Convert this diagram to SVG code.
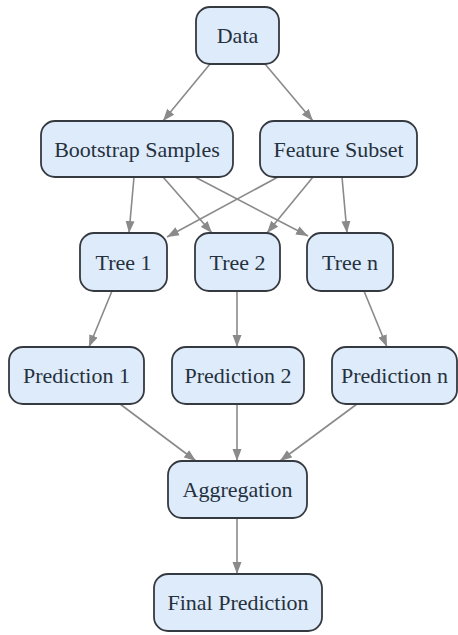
<svg xmlns="http://www.w3.org/2000/svg" width="458" height="635" viewBox="0 0 458 635">
<style>
.node rect{fill:#deebfa;stroke:#353a40;stroke-width:1.8}
.node text{font-size:22px;fill:#25313d;text-anchor:middle}
.edges line{stroke:#8a8a8a;stroke-width:1.6;fill:none;marker-end:url(#ah)}
</style>
<defs>
<marker id="ah" viewBox="0 0 12 10" refX="12" refY="5" markerWidth="12" markerHeight="10" markerUnits="userSpaceOnUse" orient="auto">
<path d="M0,0.5 L12,5 L0,9.5 Z" fill="#8a8a8a"/>
</marker>
</defs>
<rect width="458" height="635" fill="#ffffff"/>
<g class="edges">
<line x1="210" y1="64" x2="163" y2="121"/>
<line x1="265" y1="64" x2="313" y2="121"/>
<line x1="134" y1="177" x2="129" y2="233"/>
<line x1="163" y1="177" x2="212" y2="233"/>
<line x1="195" y1="177" x2="308" y2="236"/>
<line x1="278" y1="177" x2="167" y2="237"/>
<line x1="313" y1="177" x2="267" y2="233"/>
<line x1="342" y1="177" x2="347" y2="233"/>
<line x1="112" y1="291" x2="89" y2="347"/>
<line x1="237" y1="291" x2="237" y2="347"/>
<line x1="364" y1="291" x2="387" y2="347"/>
<line x1="120" y1="404" x2="196" y2="461"/>
<line x1="237" y1="404" x2="237" y2="461"/>
<line x1="357" y1="404" x2="280" y2="461"/>
<line x1="237" y1="518" x2="237" y2="574"/>
</g>
<g font-family="Liberation Serif, Times New Roman, serif">
<g id="data" class="node"><rect x="196" y="7" width="83" height="57" rx="14"/><text x="237.5" y="43">Data</text></g>
<g id="bootstrap" class="node"><rect x="41" y="121" width="192" height="56" rx="14"/><text x="137" y="157">Bootstrap Samples</text></g>
<g id="feature" class="node"><rect x="260" y="121" width="157" height="56" rx="14"/><text x="338.5" y="157">Feature Subset</text></g>
<g id="tree1" class="node"><rect x="80" y="233" width="87" height="58" rx="14"/><text x="123.5" y="270">Tree 1</text></g>
<g id="tree2" class="node"><rect x="195" y="233" width="85" height="58" rx="14"/><text x="237.5" y="270">Tree 2</text></g>
<g id="treen" class="node"><rect x="307" y="233" width="86" height="58" rx="14"/><text x="350" y="270">Tree n</text></g>
<g id="pred1" class="node"><rect x="9" y="347" width="135" height="57" rx="14"/><text x="76.5" y="383">Prediction 1</text></g>
<g id="pred2" class="node"><rect x="172" y="347" width="132" height="57" rx="14"/><text x="238" y="383">Prediction 2</text></g>
<g id="predn" class="node"><rect x="332" y="347" width="125" height="57" rx="14"/><text x="394.5" y="383">Prediction n</text></g>
<g id="aggregation" class="node"><rect x="168" y="461" width="139" height="57" rx="14"/><text x="237.5" y="497">Aggregation</text></g>
<g id="final" class="node"><rect x="154" y="574" width="168" height="57" rx="14"/><text x="238" y="610">Final Prediction</text></g>
</g>
</svg>
